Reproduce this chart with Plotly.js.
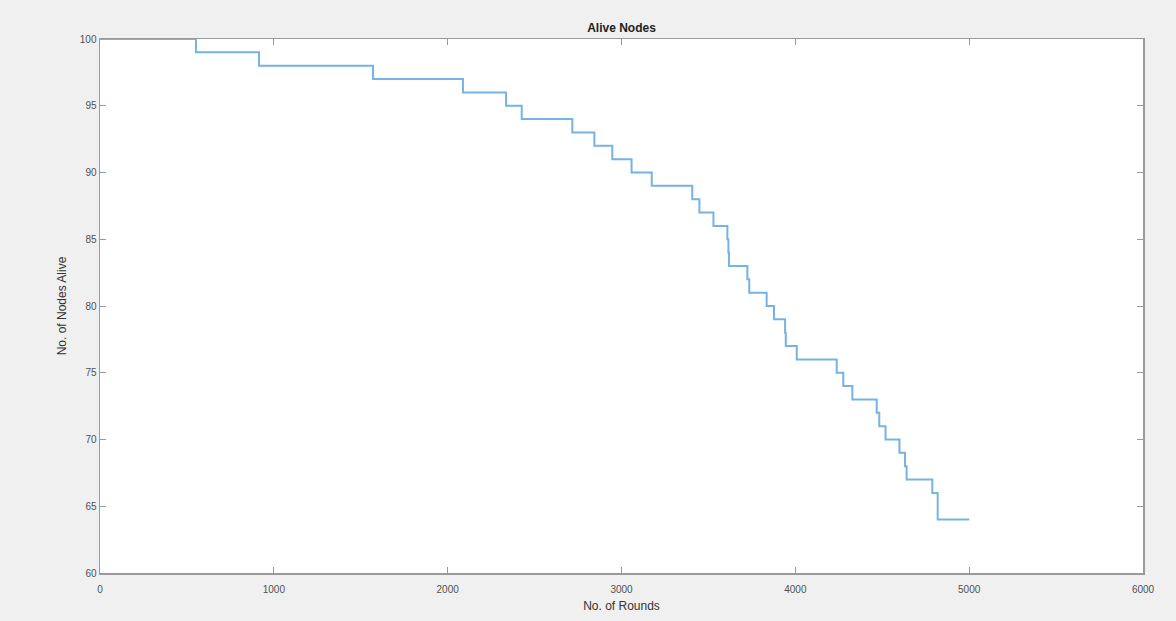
<!DOCTYPE html>
<html>
<head>
<meta charset="utf-8">
<script src="https://cdn.plot.ly/plotly-3.0.1.min.js"></script>
<style>html,body{margin:0;padding:0;background:#f0f0f0;}#chart{width:1176px;height:621px;}</style>
</head>
<body>
<div id="chart"></div>
<script>
const rounds = [0, 552, 915, 1571, 2088, 2336, 2426, 2717, 2844, 2947, 3058, 3174, 3407, 3448, 3529, 3609, 3615, 3618, 3724, 3735, 3835, 3877, 3941, 3945, 4008, 4238, 4276, 4328, 4468, 4483, 4519, 4599, 4631, 4640, 4788, 4819, 5000];
const aliveNodes = [100, 99, 98, 97, 96, 95, 94, 93, 92, 91, 90, 89, 88, 87, 86, 85, 84, 83, 82, 81, 80, 79, 78, 77, 76, 75, 74, 73, 72, 71, 70, 69, 68, 67, 66, 64, 64];
const xTicks = [0, 1000, 2000, 3000, 4000, 5000, 6000];
const yTicks = [60, 65, 70, 75, 80, 85, 90, 95, 100];

const trace = {
  x: rounds, y: aliveNodes, type: 'scatter', mode: 'lines',
  line: {shape: 'hv', color: 'rgb(118,178,226)', width: 2},
  hoverinfo: 'skip'
};
const fontFam = 'Arial, Liberation Sans, sans-serif';
const axisCommon = {
  showline: true, linecolor: '#9a9a9a', linewidth: 1.5, mirror: 'ticks',
  ticks: 'inside', ticklen: 6, tickcolor: '#9a9a9a', showgrid: false, zeroline: false,
  tickfont: {family: fontFam, size: 10, color: '#505050'}
};
const layout = {
  width: 1176, height: 621,
  paper_bgcolor: '#f0f0f0', plot_bgcolor: '#ffffff',
  margin: {l: 100, r: 33, t: 39, b: 48},
  showlegend: false,
  title: {text: '<b>Alive Nodes</b>', font: {family: fontFam, size: 12, color: '#222'}, xref: 'paper', x: 0.5, xanchor: 'center', y: 1 - 28/621, yanchor: 'middle'},
  xaxis: Object.assign({}, axisCommon, {
    range: [0, 6000], tickvals: xTicks, ticktext: xTicks.map(String), ticklabelstandoff: 6,
    title: {text: 'No. of Rounds', font: {family: fontFam, size: 12, color: '#333'}, standoff: 8}
  }),
  yaxis: Object.assign({}, axisCommon, {
    range: [60, 100], tickvals: yTicks, ticktext: yTicks.map(String),
    title: {text: 'No. of Nodes Alive', font: {family: fontFam, size: 12, color: '#333'}, standoff: 10}
  })
};
Plotly.newPlot('chart', [trace], layout, {displayModeBar: false, staticPlot: true});
</script>
</body>
</html>
